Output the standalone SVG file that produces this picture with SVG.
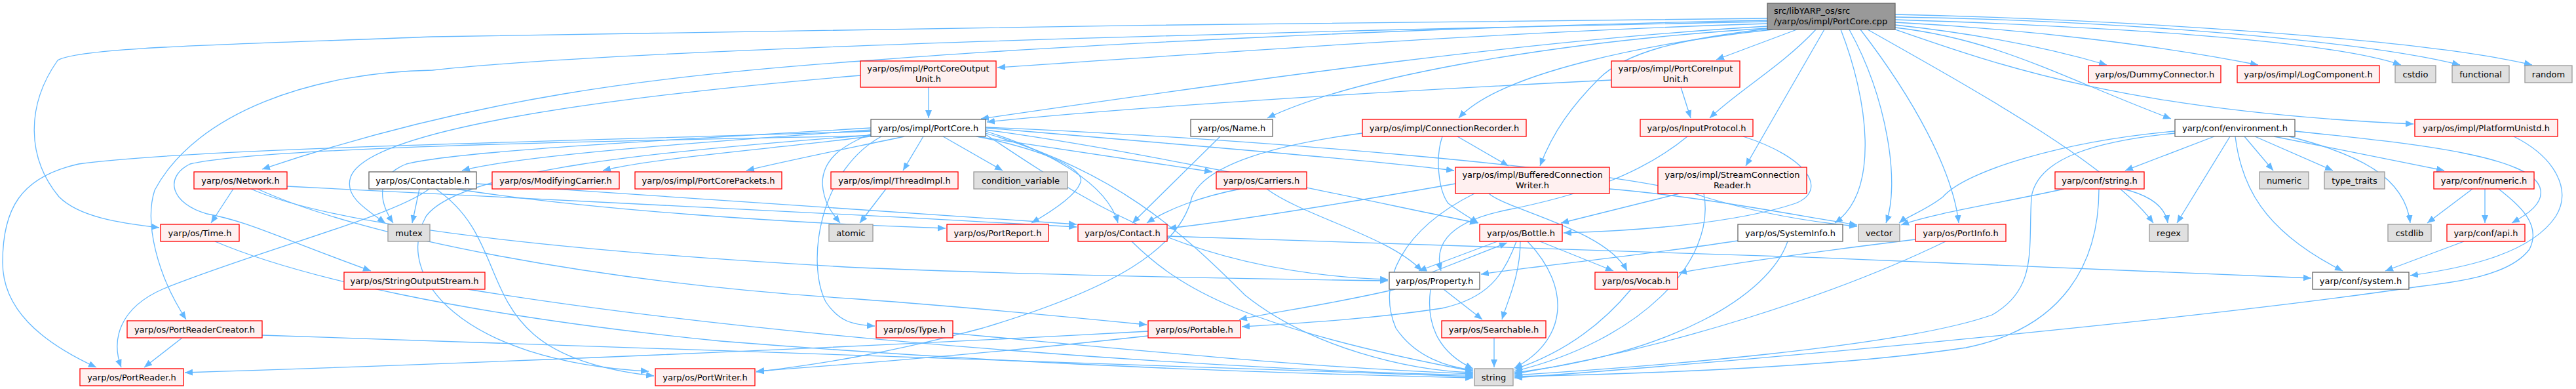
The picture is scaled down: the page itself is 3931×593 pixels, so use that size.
<svg xmlns="http://www.w3.org/2000/svg" width="3931" height="593" viewBox="0 0 3931 593">
<style>
.e{fill:none;stroke:#63b8ff;stroke-width:1.3;marker-end:url(#a)}
.r{fill:#fff0f0;stroke:#ff0000;stroke-width:1.3}
.g{fill:#e0e0e0;stroke:#999999;stroke-width:1.3}
.w{fill:#ffffff;stroke:#666666;stroke-width:1.3}
.rt{fill:#999999;stroke:#666666;stroke-width:1.3}
text{font-family:"DejaVu Sans","Liberation Sans",sans-serif;font-size:13px;fill:#000;text-anchor:middle}
text.l{text-anchor:start}
</style>
<defs>
<marker id="a" markerUnits="userSpaceOnUse" markerWidth="12" markerHeight="10" viewBox="0 0 12 10" refX="12" refY="5" orient="auto">
<path d="M0,0 L12,5 L0,10 z" fill="#63b8ff"/>
</marker>
</defs>
<rect width="3931" height="593" fill="#ffffff"/>
<g id="edges">
<path class="e" d="M2697,40 C2350,60 1950,115 1497,181"/>
<path class="e" d="M2697,36 C2250,50 1800,85 1522,103"/>
<path class="e" d="M2742,45 L2619,91"/>
<path class="e" d="M2697,31 C2200,40 1600,70 1315,93 C1000,115 720,150 400,258"/>
<path class="e" d="M2697,28 C2200,34 1000,45 660,56 C350,68 120,72 88,92 C40,160 40,240 90,300 C120,330 180,340 243,347"/>
<path class="e" d="M2697,33 C2100,45 1000,70 660,107 C480,110 300,170 236,290 C220,340 240,420 284,487"/>
<path class="e" d="M2697,43 C2350,65 2060,120 1934,180"/>
<path class="e" d="M2705,45 C2520,65 2290,110 2226,180"/>
<path class="e" d="M2697,44 C2560,60 2480,80 2440,120 C2400,160 2370,200 2350,253"/>
<path class="e" d="M2771,45 C2720,100 2650,140 2609,180"/>
<path class="e" d="M2784,45 C2740,120 2700,190 2664,253"/>
<path class="e" d="M2809,45 C2850,150 2870,290 2800,340"/>
<path class="e" d="M2822,45 C2880,150 2900,280 2878,340"/>
<path class="e" d="M2839,45 C2920,150 2980,260 2989,340"/>
<path class="e" d="M2850,45 C3000,130 3220,250 3286,340"/>
<path class="e" d="M2892,38 C3050,55 3150,80 3215,99"/>
<path class="e" d="M2892,34 C3100,45 3300,70 3446,99"/>
<path class="e" d="M2892,30 C3200,40 3550,60 3664,99"/>
<path class="e" d="M2892,26 C3200,30 3600,60 3754,99"/>
<path class="e" d="M2892,22 C3250,30 3700,60 3864,99"/>
<path class="e" d="M2892,42 C3050,60 3150,120 3313,181"/>
<path class="e" d="M2892,45 C3050,100 3250,170 3683,189"/>
<path class="e" d="M1417,133 L1417,180"/>
<path class="e" d="M1313,115 C900,150 560,200 535,270 C525,300 560,320 588,340"/>
<path class="e" d="M2459,122 C2100,140 1700,165 1506,186"/>
<path class="e" d="M2565,133 L2580,180"/>
<path class="e" d="M1409,208 L1378,260"/>
<path class="e" d="M1439,208 L1530,260"/>
<path class="e" d="M1490,208 L1850,262"/>
<path class="e" d="M1329,198 C1100,215 800,235 705,260"/>
<path class="e" d="M1335,207 C1200,225 1000,240 920,260"/>
<path class="e" d="M1380,208 C1300,225 1200,245 1139,260"/>
<path class="e" d="M1329,204 C1290,220 1255,240 1255,280 C1257,310 1270,325 1282,340"/>
<path class="e" d="M1329,195 C1000,215 700,230 620,250 C570,270 580,310 600,340"/>
<path class="e" d="M1491,208 C1600,230 1660,260 1648,280 C1640,300 1600,325 1574,340"/>
<path class="e" d="M1504,200 C1600,230 1690,280 1706,340"/>
<path class="e" d="M1504,195 C1800,220 2100,245 2219,260"/>
<path class="e" d="M1504,198 C1750,230 2150,320 2255,340"/>
<path class="e" d="M1504,194 C1900,210 2500,260 2600,300 C2700,330 2780,340 2834,345"/>
<path class="e" d="M1504,203 C1700,260 1800,350 1900,450 C2000,530 2150,565 2248,568"/>
<path class="e" d="M1329,200 C900,215 300,225 120,250 C30,270 4,320 4,400 C4,470 60,520 147,560"/>
<path class="e" d="M1329,206 C1000,230 700,260 650,330 C600,420 700,550 990,566"/>
<path class="e" d="M1345,208 C1250,260 1230,400 1260,460 C1280,490 1300,495 1335,497"/>
<path class="e" d="M1329,207 C900,215 400,225 290,250 C250,270 260,310 316,326 C380,338 420,360 566,413"/>
<path class="e" d="M1504,205 C1650,300 1800,415 2118,426"/>
<path class="e" d="M640,288 L629,340"/>
<path class="e" d="M695,288 C900,320 1200,340 1443,348"/>
<path class="e" d="M727,280 C1000,300 1300,320 1643,342"/>
<path class="e" d="M655,288 C600,330 400,380 250,440 C180,470 170,520 185,560"/>
<path class="e" d="M665,288 C800,380 700,540 998,573"/>
<path class="e" d="M356,288 L322,340"/>
<path class="e" d="M438,284 C700,300 1200,320 1643,346"/>
<path class="e" d="M383,288 C500,340 800,380 1310,408 C1600,420 1900,425 2118,428"/>
<path class="e" d="M393,288 C550,360 900,430 1310,456 C1500,470 1650,485 1750,495"/>
<path class="e" d="M328,368 C450,420 700,480 1100,520 C1600,560 2000,570 2248,576"/>
<path class="e" d="M1352,288 L1312,340"/>
<path class="e" d="M1862,208 L1728,340"/>
<path class="e" d="M1893,288 C1830,300 1780,320 1750,340"/>
<path class="e" d="M1933,288 C1990,330 2120,360 2170,413"/>
<path class="e" d="M2224,208 L2302,253"/>
<path class="e" d="M2201,208 C2190,240 2195,290 2210,310 C2230,325 2245,333 2256,340"/>
<path class="e" d="M2079,203 C1950,220 1840,250 1819,300 C1800,380 1700,440 1500,500 C1350,540 1250,555 1154,567"/>
<path class="e" d="M2660,208 C2760,240 2790,290 2740,310 C2650,340 2500,352 2386,355"/>
<path class="e" d="M2575,208 C2500,270 2400,300 2300,320 C2200,340 2190,380 2199,413"/>
<path class="e" d="M2272,295 C2300,320 2450,350 2483,413"/>
<path class="e" d="M2250,295 C2140,350 2100,430 2130,500 C2160,545 2210,560 2248,564"/>
<path class="e" d="M2456,288 C2600,300 2750,330 2834,343"/>
<path class="e" d="M2221,280 C2050,310 1900,335 1783,348"/>
<path class="e" d="M2563,295 L2382,340"/>
<path class="e" d="M2600,295 C2620,400 2500,520 2311,566"/>
<path class="e" d="M2285,368 L2165,413"/>
<path class="e" d="M2185,415 L2300,370"/>
<path class="e" d="M2320,368 C2320,420 2300,460 2292,487"/>
<path class="e" d="M2331,368 C2400,440 2390,520 2311,561"/>
<path class="e" d="M2350,368 L2462,413"/>
<path class="e" d="M2314,368 C2295,420 2270,455 2200,470 C2100,485 2000,492 1895,498"/>
<path class="e" d="M2203,441 L2262,487"/>
<path class="e" d="M2183,441 C2175,500 2200,540 2248,562"/>
<path class="e" d="M2129,441 C2050,460 1950,475 1891,487"/>
<path class="e" d="M2280,515 L2280,560"/>
<path class="e" d="M2489,441 C2440,500 2380,540 2311,563"/>
<path class="e" d="M2652,367 C2500,390 2350,405 2260,418"/>
<path class="e" d="M2728,368 C2700,450 2550,540 2311,568"/>
<path class="e" d="M2923,365 C2800,380 2650,400 2562,416"/>
<path class="e" d="M2969,368 C2800,450 2550,530 2311,570"/>
<path class="e" d="M3150,288 C3050,310 2950,325 2901,343"/>
<path class="e" d="M3203,288 C3203,400 3150,500 3000,530 C2800,560 2500,570 2311,574"/>
<path class="e" d="M3240,288 C3290,300 3305,320 3308,340"/>
<path class="e" d="M3379,208 L3243,260"/>
<path class="e" d="M3403,208 L3322,340"/>
<path class="e" d="M3411,208 C3420,280 3450,350 3575,413"/>
<path class="e" d="M3425,208 L3469,260"/>
<path class="e" d="M3441,208 L3560,260"/>
<path class="e" d="M3470,208 L3730,260"/>
<path class="e" d="M3493,208 C3600,235 3670,270 3678,340"/>
<path class="e" d="M3502,200 C3700,220 3870,240 3877,290 C3880,310 3860,325 3833,340"/>
<path class="e" d="M3319,203 C3200,215 3110,240 3100,300 C3095,380 3110,440 3040,480 C2900,530 2500,560 2311,572"/>
<path class="e" d="M3319,200 C3150,215 3000,260 2965,300 C2940,320 2910,330 2898,340"/>
<path class="e" d="M3773,288 L3704,340"/>
<path class="e" d="M3792,288 L3792,340"/>
<path class="e" d="M3813,288 C3840,310 3880,340 3860,380 C3830,420 3750,430 3690,437 C3400,480 2800,540 2311,576"/>
<path class="e" d="M3836,208 C3900,240 3925,290 3900,330 C3860,390 3750,410 3678,420"/>
<path class="e" d="M3760,368 L3640,413"/>
<path class="e" d="M1781,360 C2200,370 3000,400 3527,424"/>
<path class="e" d="M1727,368 C1800,440 1900,500 2248,566"/>
<path class="e" d="M1752,505 C1300,530 700,555 282,568"/>
<path class="e" d="M1752,512 C1500,540 1300,555 1154,566"/>
<path class="e" d="M1454,508 C1800,540 2000,560 2248,570"/>
<path class="e" d="M278,515 L220,560"/>
<path class="e" d="M400,511 C1000,530 1800,560 2248,574"/>
<path class="e" d="M714,441 C1200,520 1900,565 2248,572"/>
</g>
<g id="n_root"><rect class="rt" x="2697" y="5" width="195" height="40"/><text class="l" x="2707" y="21">src/libYARP_os/src</text><text class="l" x="2707" y="37">/yarp/os/impl/PortCore.cpp</text></g>
<g id="n_outunit"><rect class="r" x="1313" y="93" width="207" height="40"/><text x="1416.5" y="109">yarp/os/impl/PortCoreOutput</text><text x="1416.5" y="125">Unit.h</text></g>
<g id="n_inunit"><rect class="r" x="2459" y="93" width="196" height="40"/><text x="2557" y="109">yarp/os/impl/PortCoreInput</text><text x="2557" y="125">Unit.h</text></g>
<g id="n_dummy"><rect class="r" x="3187" y="100" width="202" height="26"/><text x="3288" y="118">yarp/os/DummyConnector.h</text></g>
<g id="n_logc"><rect class="r" x="3414" y="100" width="217" height="26"/><text x="3522.5" y="118">yarp/os/impl/LogComponent.h</text></g>
<g id="n_cstdio"><rect class="g" x="3655" y="100" width="62" height="26"/><text x="3686" y="118">cstdio</text></g>
<g id="n_functional"><rect class="g" x="3742" y="100" width="87" height="26"/><text x="3785.5" y="118">functional</text></g>
<g id="n_random"><rect class="g" x="3853" y="100" width="72" height="26"/><text x="3889" y="118">random</text></g>
<g id="n_portcore"><rect class="w" x="1329" y="182" width="175" height="26"/><text x="1416.5" y="200">yarp/os/impl/PortCore.h</text></g>
<g id="n_name"><rect class="w" x="1817" y="182" width="125" height="26"/><text x="1879.5" y="200">yarp/os/Name.h</text></g>
<g id="n_connrec"><rect class="r" x="2079" y="182" width="250" height="26"/><text x="2204" y="200">yarp/os/impl/ConnectionRecorder.h</text></g>
<g id="n_inprot"><rect class="r" x="2503" y="182" width="172" height="26"/><text x="2589" y="200">yarp/os/InputProtocol.h</text></g>
<g id="n_env"><rect class="w" x="3319" y="182" width="183" height="26"/><text x="3410.5" y="200">yarp/conf/environment.h</text></g>
<g id="n_platu"><rect class="r" x="3685" y="182" width="218" height="26"/><text x="3794" y="200">yarp/os/impl/PlatformUnistd.h</text></g>
<g id="n_network"><rect class="r" x="296" y="262" width="142" height="26"/><text x="367" y="280">yarp/os/Network.h</text></g>
<g id="n_contactable"><rect class="w" x="563" y="262" width="164" height="26"/><text x="645" y="280">yarp/os/Contactable.h</text></g>
<g id="n_modcar"><rect class="r" x="751" y="262" width="194" height="26"/><text x="848" y="280">yarp/os/ModifyingCarrier.h</text></g>
<g id="n_pcpackets"><rect class="r" x="969" y="262" width="224" height="26"/><text x="1081" y="280">yarp/os/impl/PortCorePackets.h</text></g>
<g id="n_threadimpl"><rect class="r" x="1268" y="262" width="194" height="26"/><text x="1365" y="280">yarp/os/impl/ThreadImpl.h</text></g>
<g id="n_condvar"><rect class="g" x="1486" y="262" width="143" height="26"/><text x="1557.5" y="280">condition_variable</text></g>
<g id="n_carriers"><rect class="r" x="1856" y="262" width="138" height="26"/><text x="1925" y="280">yarp/os/Carriers.h</text></g>
<g id="n_bcw"><rect class="r" x="2221" y="255" width="235" height="40"/><text x="2338.5" y="271">yarp/os/impl/BufferedConnection</text><text x="2338.5" y="287">Writer.h</text></g>
<g id="n_scr"><rect class="r" x="2530" y="255" width="227" height="40"/><text x="2643.5" y="271">yarp/os/impl/StreamConnection</text><text x="2643.5" y="287">Reader.h</text></g>
<g id="n_cstring"><rect class="r" x="3136" y="262" width="136" height="26"/><text x="3204" y="280">yarp/conf/string.h</text></g>
<g id="n_numeric"><rect class="g" x="3448" y="262" width="75" height="26"/><text x="3485.5" y="280">numeric</text></g>
<g id="n_typetraits"><rect class="g" x="3547" y="262" width="92" height="26"/><text x="3593" y="280">type_traits</text></g>
<g id="n_cnumeric"><rect class="r" x="3714" y="262" width="153" height="26"/><text x="3790.5" y="280">yarp/conf/numeric.h</text></g>
<g id="n_time"><rect class="r" x="245" y="342" width="120" height="26"/><text x="305" y="360">yarp/os/Time.h</text></g>
<g id="n_mutex"><rect class="g" x="592" y="342" width="64" height="26"/><text x="624" y="360">mutex</text></g>
<g id="n_atomic"><rect class="g" x="1265" y="342" width="67" height="26"/><text x="1298.5" y="360">atomic</text></g>
<g id="n_portreport"><rect class="r" x="1445" y="342" width="155" height="26"/><text x="1522.5" y="360">yarp/os/PortReport.h</text></g>
<g id="n_contact"><rect class="r" x="1645" y="342" width="136" height="26"/><text x="1713" y="360">yarp/os/Contact.h</text></g>
<g id="n_bottle"><rect class="r" x="2258" y="342" width="126" height="26"/><text x="2321" y="360">yarp/os/Bottle.h</text></g>
<g id="n_systeminfo"><rect class="w" x="2652" y="342" width="160" height="26"/><text x="2732" y="360">yarp/os/SystemInfo.h</text></g>
<g id="n_vector"><rect class="g" x="2836" y="342" width="63" height="26"/><text x="2867.5" y="360">vector</text></g>
<g id="n_portinfo"><rect class="r" x="2923" y="342" width="138" height="26"/><text x="2992" y="360">yarp/os/PortInfo.h</text></g>
<g id="n_regex"><rect class="g" x="3280" y="342" width="59" height="26"/><text x="3309.5" y="360">regex</text></g>
<g id="n_cstdlib"><rect class="g" x="3644" y="342" width="66" height="26"/><text x="3677" y="360">cstdlib</text></g>
<g id="n_api"><rect class="r" x="3734" y="342" width="119" height="26"/><text x="3793.5" y="360">yarp/conf/api.h</text></g>
<g id="n_sos"><rect class="r" x="525" y="415" width="215" height="26"/><text x="632.5" y="433">yarp/os/StringOutputStream.h</text></g>
<g id="n_property"><rect class="w" x="2120" y="415" width="138" height="26"/><text x="2189" y="433">yarp/os/Property.h</text></g>
<g id="n_vocab"><rect class="r" x="2434" y="415" width="126" height="26"/><text x="2497" y="433">yarp/os/Vocab.h</text></g>
<g id="n_system"><rect class="w" x="3529" y="415" width="147" height="26"/><text x="3602.5" y="433">yarp/conf/system.h</text></g>
<g id="n_prc"><rect class="r" x="194" y="489" width="206" height="26"/><text x="297" y="507">yarp/os/PortReaderCreator.h</text></g>
<g id="n_type"><rect class="r" x="1337" y="489" width="117" height="26"/><text x="1395.5" y="507">yarp/os/Type.h</text></g>
<g id="n_portable"><rect class="r" x="1752" y="489" width="141" height="26"/><text x="1822.5" y="507">yarp/os/Portable.h</text></g>
<g id="n_searchable"><rect class="r" x="2200" y="489" width="159" height="26"/><text x="2279.5" y="507">yarp/os/Searchable.h</text></g>
<g id="n_portreader"><rect class="r" x="122" y="562" width="158" height="26"/><text x="201" y="580">yarp/os/PortReader.h</text></g>
<g id="n_portwriter"><rect class="r" x="1000" y="562" width="152" height="26"/><text x="1076" y="580">yarp/os/PortWriter.h</text></g>
<g id="n_string"><rect class="g" x="2250" y="562" width="59" height="26"/><text x="2279.5" y="580">string</text></g>
</svg>
